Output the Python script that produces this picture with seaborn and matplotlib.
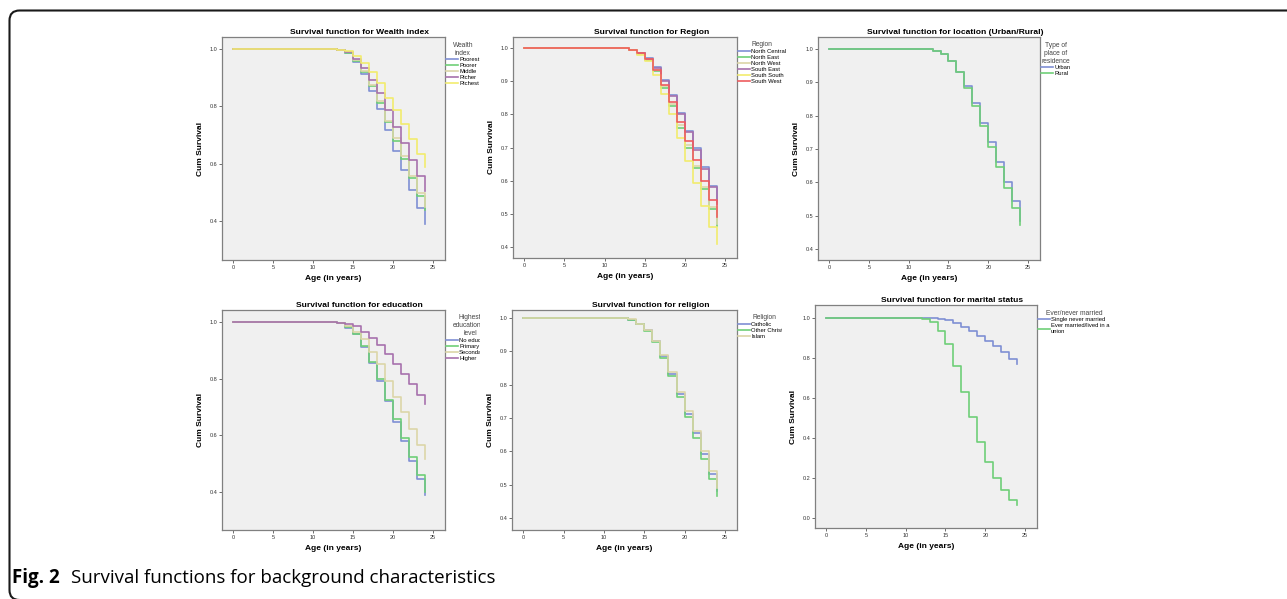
import numpy as np
import pandas as pd
import matplotlib
matplotlib.use("Agg")
import matplotlib.pyplot as plt
from matplotlib.lines import Line2D
from matplotlib.patches import PathPatch
from matplotlib.path import Path
from matplotlib.transforms import Bbox, TransformedBbox
from matplotlib.ticker import FormatStrFormatter
import seaborn as sns

plt.rcParams["font.family"] = ["Liberation Sans", "DejaVu Sans"]

# Ages at which the Kaplan-Meier curves step (0 = start of follow-up)
ages = [0, 12, 13, 14, 15, 16, 17, 18, 19, 20, 21, 22, 23, 24]

# Wealth index
wealth_labels = ["Poorest", "Poorer", "Middle", "Richer", "Richest"]
wealth_values = [
    [1.0, 0.999, 0.996, 0.985, 0.956, 0.913, 0.855, 0.790, 0.718, 0.646, 0.578, 0.510, 0.445, 0.390],
    [1.0, 0.999, 0.996, 0.987, 0.960, 0.920, 0.870, 0.813, 0.745, 0.681, 0.616, 0.549, 0.488, 0.440],
    [1.0, 0.999, 0.996, 0.988, 0.962, 0.925, 0.875, 0.820, 0.751, 0.689, 0.626, 0.558, 0.498, 0.450],
    [1.0, 0.999, 0.997, 0.990, 0.966, 0.935, 0.892, 0.846, 0.788, 0.730, 0.674, 0.615, 0.556, 0.505],
    [1.0, 0.999, 0.997, 0.992, 0.975, 0.952, 0.921, 0.880, 0.830, 0.787, 0.738, 0.688, 0.636, 0.590],
]

# Region
region_labels = ["North Central", "North East", "North West", "South East", "South South", "South West"]
region_values = [
    [1.0, 0.999, 0.995, 0.986, 0.970, 0.942, 0.902, 0.857, 0.803, 0.750, 0.697, 0.640, 0.585, 0.535],
    [1.0, 0.999, 0.994, 0.983, 0.965, 0.930, 0.880, 0.826, 0.760, 0.700, 0.638, 0.575, 0.515, 0.462],
    [1.0, 0.999, 0.994, 0.983, 0.966, 0.934, 0.885, 0.830, 0.768, 0.708, 0.645, 0.580, 0.520, 0.470],
    [1.0, 0.999, 0.995, 0.986, 0.968, 0.940, 0.900, 0.855, 0.800, 0.746, 0.693, 0.636, 0.580, 0.530],
    [1.0, 0.999, 0.993, 0.980, 0.960, 0.917, 0.862, 0.800, 0.728, 0.660, 0.593, 0.525, 0.460, 0.410],
    [1.0, 0.999, 0.995, 0.985, 0.966, 0.935, 0.888, 0.838, 0.778, 0.720, 0.662, 0.600, 0.543, 0.490],
]

# Urban / rural
residence_labels = ["Urban", "Rural"]
residence_values = [
    [1.0, 0.999, 0.995, 0.985, 0.965, 0.932, 0.888, 0.838, 0.778, 0.720, 0.660, 0.600, 0.543, 0.485],
    [1.0, 0.999, 0.994, 0.984, 0.963, 0.930, 0.882, 0.830, 0.768, 0.706, 0.645, 0.583, 0.522, 0.472],
]

# Education
education_labels = ["No education", "Primary", "Secondary", "Higher"]
education_values = [
    [1.0, 0.999, 0.995, 0.980, 0.956, 0.913, 0.854, 0.792, 0.719, 0.646, 0.578, 0.509, 0.444, 0.390],
    [1.0, 0.999, 0.995, 0.981, 0.958, 0.915, 0.860, 0.800, 0.725, 0.657, 0.590, 0.523, 0.458, 0.400],
    [1.0, 0.999, 0.997, 0.987, 0.965, 0.938, 0.895, 0.850, 0.790, 0.735, 0.680, 0.620, 0.565, 0.515],
    [1.0, 0.999, 0.997, 0.992, 0.984, 0.965, 0.943, 0.917, 0.885, 0.851, 0.816, 0.780, 0.742, 0.710],
]

# Religion
religion_labels = ["Catholic", "Other Christian", "Islam"]
religion_values = [
    [1.0, 0.999, 0.995, 0.982, 0.963, 0.930, 0.885, 0.833, 0.772, 0.713, 0.655, 0.593, 0.533, 0.480],
    [1.0, 0.999, 0.995, 0.982, 0.962, 0.928, 0.880, 0.827, 0.763, 0.702, 0.640, 0.577, 0.517, 0.465],
    [1.0, 0.999, 0.996, 0.983, 0.963, 0.932, 0.888, 0.838, 0.778, 0.720, 0.662, 0.600, 0.542, 0.490],
]

# Marital status
marital_labels = ["Single never married", "Ever married/lived in a\nunion"]
marital_values = [
    [1.0, 1.000, 0.998, 0.995, 0.988, 0.975, 0.957, 0.936, 0.912, 0.886, 0.858, 0.828, 0.797, 0.770],
    [1.0, 0.995, 0.980, 0.937, 0.871, 0.762, 0.632, 0.506, 0.378, 0.280, 0.200, 0.138, 0.090, 0.065],
]

# SPSS default line colours (as they look in the scanned figure)
spss_colors = ["#7f8fd4", "#6fcf78", "#dcd6a8", "#a771ad", "#f2ec6e", "#ee5c5f"]

W, H = 1287, 599
fig = plt.figure(figsize=(W / 100, H / 100), dpi=100)


def px_axes(x0, y0, x1, y1):
    # axes from pixel box (top-left origin)
    return fig.add_axes([x0 / W, 1 - y1 / H, (x1 - x0) / W, (y1 - y0) / H])


def survival_panel(ax, labels, values, title, legend_title, yticks, ylim, clip_x=None):
    df = pd.DataFrame({
        "Age": ages * len(labels),
        "Cum Survival": sum(values, []),
        "group": np.repeat(labels, len(ages)),
    })
    pal = spss_colors[:len(labels)]
    sns.lineplot(data=df, x="Age", y="Cum Survival", hue="group", hue_order=labels,
                 palette=pal, drawstyle="steps-post", estimator=None,
                 legend=False, ax=ax, linewidth=1.2)
    ax.set_facecolor("#f0f0f0")
    for s in ax.spines.values():
        s.set_color("#808080")
        s.set_linewidth(0.9)
    ax.set_xlim(-1.4, 26.5)
    ax.set_ylim(*ylim)
    ax.set_xticks([0, 5, 10, 15, 20, 25])
    ax.set_yticks(yticks)
    ax.yaxis.set_major_formatter(FormatStrFormatter("%.1f"))
    ax.tick_params(length=2, width=0.6, color="#555555", labelsize=4.0, pad=1.5,
                   labelcolor="#333333")
    ax.set_xlabel("Age (in years)", fontsize=6.0, fontweight="bold", labelpad=4)
    ax.set_ylabel("Cum Survival", fontsize=6.0, fontweight="bold", labelpad=4)
    ax.set_title(title, fontsize=6.1, fontweight="bold", x=0.617, pad=2.5)

    handles = [Line2D([], [], color=c, lw=1.2) for c in pal]
    leg = ax.legend(handles, labels, title=legend_title, loc="upper left",
                    bbox_to_anchor=(1.0, 0.985), frameon=False, fontsize=4.2,
                    title_fontsize=4.8, handlelength=2.0, handletextpad=0.2,
                    labelspacing=0.15, borderaxespad=0, borderpad=0.2)
    leg.get_title().set_color("#444444")
    leg.get_title().set_multialignment("center")
    if clip_x is not None:
        # legend text runs into the next panel in the original, cut it there
        cb = TransformedBbox(Bbox([[0, 0], [clip_x / W, 1]]), fig.transFigure)
        for t in leg.get_texts() + [leg.get_title()]:
            t.set_clip_on(True)
            t.set_clip_box(cb)
    return ax


tick4 = [0.4, 0.6, 0.8, 1.0]
tick7 = [0.4, 0.5, 0.6, 0.7, 0.8, 0.9, 1.0]
tick6 = [0.0, 0.2, 0.4, 0.6, 0.8, 1.0]

survival_panel(px_axes(222, 37, 445, 260), wealth_labels, wealth_values,
               "Survival function for Wealth index", "Wealth\nindex", tick4, (0.265, 1.042))
survival_panel(px_axes(513, 37, 737, 258), region_labels, region_values,
               "Survival function for Region", "Region", tick7, (0.367, 1.033))
survival_panel(px_axes(818, 37, 1040, 260), residence_labels, residence_values,
               "Survival function for location (Urban/Rural)",
               "Type of\nplace of\nresidence", tick7, (0.367, 1.036))
survival_panel(px_axes(222, 310, 445, 530), education_labels, education_values,
               "Survival function for education", "Highest\neducational\nlevel",
               tick4, (0.265, 1.042), clip_x=480)
survival_panel(px_axes(512, 310, 737, 530), religion_labels, religion_values,
               "Survival function for religion", "Religion", tick7, (0.364, 1.024),
               clip_x=782)
survival_panel(px_axes(815, 305, 1037, 528), marital_labels, marital_values,
               "Survival function for marital status", "Ever/never married",
               tick6, (-0.05, 1.065))

# journal figure box: top and left sides with rounded corners
top, left, r = H - 10.5, 9.5, 10
verts = [(W + 20, top), (left + r, top), (left, top), (left, top - r),
         (left, r - 1), (left, -1), (left + r, -1)]
codes = [Path.MOVETO, Path.LINETO, Path.CURVE3, Path.CURVE3,
         Path.LINETO, Path.CURVE3, Path.CURVE3]
verts = [(x / W, y / H) for x, y in verts]
fig.add_artist(PathPatch(Path(verts, codes), transform=fig.transFigure,
                         fill=False, edgecolor="#1a1a1a", linewidth=1.5))

fig.text(12 / W, 1 - 578 / H, "Fig. 2", fontsize=13.5, fontweight="bold",
         family=["Open Sans", "DejaVu Sans"], va="center", ha="left")
fig.text(71 / W, 1 - 578 / H, "Survival functions for background characteristics",
         fontsize=13.5, family=["Open Sans", "DejaVu Sans"], va="center", ha="left")

fig.savefig("out.png", dpi=100, facecolor="white")
